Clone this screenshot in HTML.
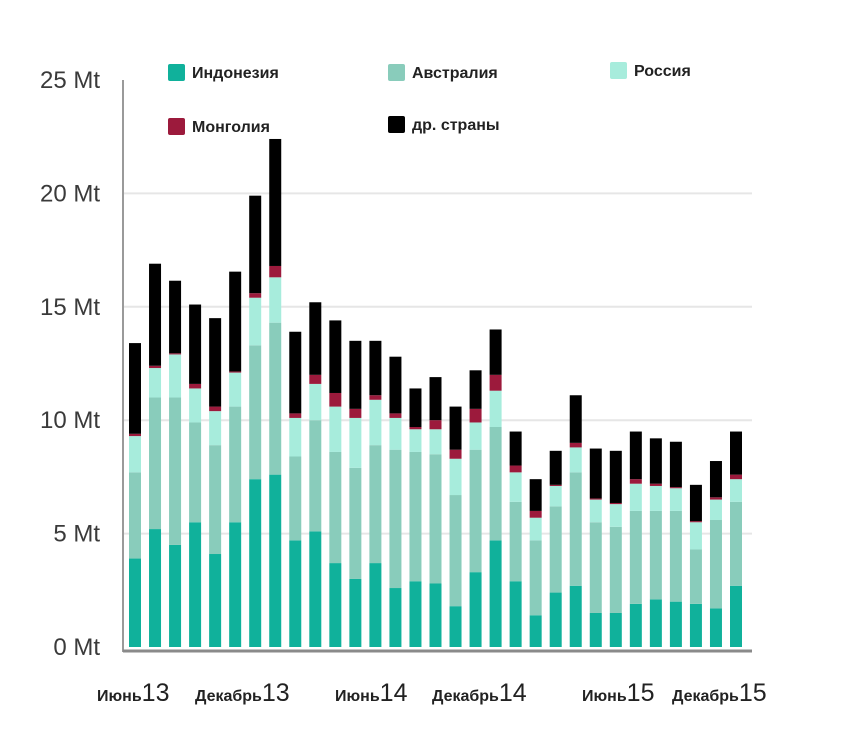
<!DOCTYPE html>
<html><head><meta charset="utf-8">
<style>
html,body{margin:0;padding:0;background:#fff;}
svg{display:block;font-family:"Liberation Sans","DejaVu Sans",sans-serif;}
</style></head>
<body>
<svg id="chart" width="847" height="750" viewBox="0 0 847 750">
<g id="grid"></g>
<g id="yaxis"></g>
<g id="bars"></g>
<g id="xaxis"></g>
<g id="legend"></g>
</svg>
<script>
const yTicks = [0, 5, 10, 15, 20, 25];
const yTickLabels = ["0 Mt", "5 Mt", "10 Mt", "15 Mt", "20 Mt", "25 Mt"];
const xLabelMonths = ["Июнь", "Декабрь", "Июнь", "Декабрь", "Июнь", "Декабрь"];
const xLabelYears = ["13", "13", "14", "14", "15", "15"];
const seriesNames = ["Индонезия", "Австралия", "Россия", "Монголия", "др. страны"];
const indonesia = [3.9,5.2,4.5,5.5,4.1,5.5,7.4,7.6,4.7,5.1,3.7,3.0,3.7,2.6,2.9,2.8,1.8,3.3,4.7,2.9,1.4,2.4,2.7,1.5,1.5,1.9,2.1,2.0,1.9,1.7,2.7];
const australia = [3.8,5.8,6.5,4.4,4.8,5.1,5.9,6.7,3.7,4.9,4.9,4.9,5.2,6.1,5.7,5.7,4.9,5.4,5.0,3.5,3.3,3.8,5.0,4.0,3.8,4.1,3.9,4.0,2.4,3.9,3.7];
const russia = [1.6,1.3,1.9,1.5,1.5,1.5,2.1,2.0,1.7,1.6,2.0,2.2,2.0,1.4,1.0,1.1,1.6,1.2,1.6,1.3,1.0,0.9,1.1,1.0,1.0,1.2,1.1,1.0,1.2,0.9,1.0];
const mongolia = [0.1,0.1,0.05,0.2,0.2,0.05,0.2,0.5,0.2,0.4,0.6,0.4,0.2,0.2,0.1,0.4,0.4,0.6,0.7,0.3,0.3,0.05,0.2,0.05,0.05,0.2,0.1,0.05,0.05,0.1,0.2];
const others = [4.0,4.5,3.2,3.5,3.9,4.4,4.3,5.6,3.6,3.2,3.2,3.0,2.4,2.5,1.7,1.9,1.9,1.7,2.0,1.5,1.4,1.5,2.1,2.2,2.3,2.1,2.0,2.0,1.6,1.6,1.9];
const colors = ["#10b19b", "#89ccbb", "#a7ecdc", "#9c1a3c", "#000000"];

const NS = "http://www.w3.org/2000/svg";
const y0 = 647, yMax = 25, yTop = 80;
function yScale(v){ return y0 - v / yMax * (y0 - yTop); }
const xFirst = 135, xLast = 736, barW = 12;
function xScale(i){ return xFirst + i * (xLast - xFirst) / (indonesia.length - 1); }
function mk(tag, attrs, parent){ const e = document.createElementNS(NS, tag); for (const k in attrs) e.setAttribute(k, attrs[k]); parent.appendChild(e); return e; }

const grid = document.getElementById('grid');
const yaxis = document.getElementById('yaxis');
yTicks.forEach((t, i) => {
  if (t > 0 && t < 25) {
    const l = mk('line', {x1:123, x2:752, y1:yScale(t), y2:yScale(t), stroke:'#e6e6e6', 'stroke-width':2}, grid);
    
    
  }
  const tx = mk('text', {x:100, y:yScale(t) + 8, 'text-anchor':'end', 'font-size':24, fill:'#3a3a3a'}, yaxis);
  tx.textContent = yTickLabels[i];
  
  
});
const ax = mk('line', {x1:123, x2:123, y1:80, y2:y0+5, stroke:'#9a9a9a', 'stroke-width':2}, yaxis);


const bx = mk('line', {x1:123, x2:752, y1:y0+4, y2:y0+4, stroke:'#8a8a8a', 'stroke-width':3}, yaxis);



const bars = document.getElementById('bars');
const series = [indonesia, australia, russia, mongolia, others];
indonesia.forEach((_, i) => {
  let cum = 0;
  series.forEach((s, k) => {
    const v = s[i];
    const yt = yScale(cum + v), yb = yScale(cum);
    const r = mk('rect', {x:xScale(i) - barW/2, y:yt, width:barW, height:Math.max(0, yb - yt), fill:colors[k]}, bars);
    
    
    cum += v;
  });
});

const xaxis = document.getElementById('xaxis');
const xLabelStart = [97, 195, 335, 432, 582, 672];
xLabelMonths.forEach((m, i) => {
  const t = mk('text', {x:xLabelStart[i], y:701, fill:'#222'}, xaxis);
  
  
  const a = mk('tspan', {'font-size':16, 'font-weight':600}, t); a.textContent = m;
  const b = mk('tspan', {'font-size':25}, t); b.textContent = xLabelYears[i];
});

const legend = document.getElementById('legend');
const legPos = [[168,64],[388,64],[610,62],[168,118],[388,116]];
seriesNames.forEach((n, k) => {
  const g = mk('g', {}, legend);
  
  
  mk('rect', {x:legPos[k][0], y:legPos[k][1], width:17, height:17, rx:2, fill:colors[k]}, g);
  const t = mk('text', {x:legPos[k][0] + 24, y:legPos[k][1] + 14, 'font-size':16, 'font-weight':600, fill:'#222'}, g);
  t.textContent = n;
});
</script>
</body></html>
